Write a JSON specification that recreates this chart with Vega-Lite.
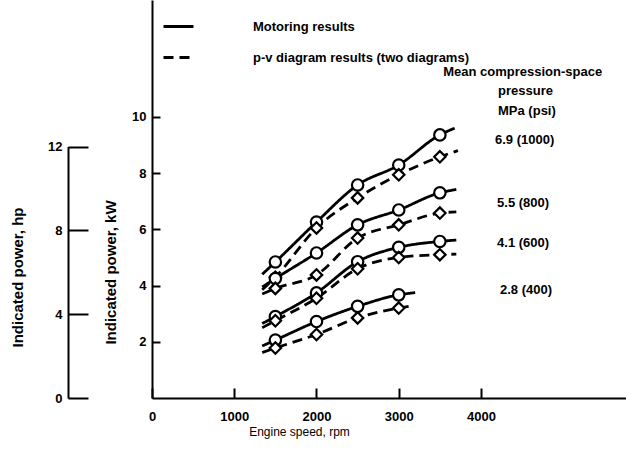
{
  "$schema": "https://vega.github.io/schema/vega-lite/v6.json",
  "width": 474,
  "height": 398,
  "autosize": {"type": "none"},
  "padding": {"left": 152, "top": 0, "right": 0, "bottom": 52},
  "background": "white",
  "config": {
    "view": {"stroke": null},
    "font": "Liberation Sans",
    "axis": {
      "grid": false,
      "domainColor": "black",
      "domainWidth": 2,
      "tickColor": "black",
      "tickWidth": 2,
      "labelColor": "black",
      "titleColor": "black",
      "labelFont": "Liberation Sans",
      "labelFontWeight": "bold",
      "labelFontSize": 13,
      "titleFont": "Liberation Sans",
      "titleFontWeight": "bold",
      "titleFontSize": 13,
      "labelFlush": false,
      "labelOverlap": false
    }
  },
  "datasets": {
    "points": [
      {"p": "6.9 (1000)", "type": "Motoring results", "rpm": 1500, "kW": 4.84},
      {"p": "6.9 (1000)", "type": "Motoring results", "rpm": 2000, "kW": 6.26},
      {"p": "6.9 (1000)", "type": "Motoring results", "rpm": 2500, "kW": 7.58},
      {"p": "6.9 (1000)", "type": "Motoring results", "rpm": 3000, "kW": 8.29},
      {"p": "6.9 (1000)", "type": "Motoring results", "rpm": 3500, "kW": 9.36},
      {"p": "6.9 (1000)", "type": "p-v diagram results (two diagrams)", "rpm": 1500, "kW": 4.3},
      {"p": "6.9 (1000)", "type": "p-v diagram results (two diagrams)", "rpm": 2000, "kW": 6.05},
      {"p": "6.9 (1000)", "type": "p-v diagram results (two diagrams)", "rpm": 2500, "kW": 7.12},
      {"p": "6.9 (1000)", "type": "p-v diagram results (two diagrams)", "rpm": 3000, "kW": 7.94},
      {"p": "6.9 (1000)", "type": "p-v diagram results (two diagrams)", "rpm": 3500, "kW": 8.58},
      {"p": "5.5 (800)", "type": "Motoring results", "rpm": 1500, "kW": 4.25},
      {"p": "5.5 (800)", "type": "Motoring results", "rpm": 2000, "kW": 5.16},
      {"p": "5.5 (800)", "type": "Motoring results", "rpm": 2500, "kW": 6.16},
      {"p": "5.5 (800)", "type": "Motoring results", "rpm": 3000, "kW": 6.69},
      {"p": "5.5 (800)", "type": "Motoring results", "rpm": 3500, "kW": 7.3},
      {"p": "5.5 (800)", "type": "p-v diagram results (two diagrams)", "rpm": 1500, "kW": 3.9},
      {"p": "5.5 (800)", "type": "p-v diagram results (two diagrams)", "rpm": 2000, "kW": 4.38},
      {"p": "5.5 (800)", "type": "p-v diagram results (two diagrams)", "rpm": 2500, "kW": 5.69},
      {"p": "5.5 (800)", "type": "p-v diagram results (two diagrams)", "rpm": 3000, "kW": 6.16},
      {"p": "5.5 (800)", "type": "p-v diagram results (two diagrams)", "rpm": 3500, "kW": 6.58},
      {"p": "4.1 (600)", "type": "Motoring results", "rpm": 1500, "kW": 2.9},
      {"p": "4.1 (600)", "type": "Motoring results", "rpm": 2000, "kW": 3.74},
      {"p": "4.1 (600)", "type": "Motoring results", "rpm": 2500, "kW": 4.85},
      {"p": "4.1 (600)", "type": "Motoring results", "rpm": 3000, "kW": 5.36},
      {"p": "4.1 (600)", "type": "Motoring results", "rpm": 3500, "kW": 5.57},
      {"p": "4.1 (600)", "type": "p-v diagram results (two diagrams)", "rpm": 1500, "kW": 2.75},
      {"p": "4.1 (600)", "type": "p-v diagram results (two diagrams)", "rpm": 2000, "kW": 3.55},
      {"p": "4.1 (600)", "type": "p-v diagram results (two diagrams)", "rpm": 2500, "kW": 4.6},
      {"p": "4.1 (600)", "type": "p-v diagram results (two diagrams)", "rpm": 3000, "kW": 5.0},
      {"p": "4.1 (600)", "type": "p-v diagram results (two diagrams)", "rpm": 3500, "kW": 5.1},
      {"p": "2.8 (400)", "type": "Motoring results", "rpm": 1500, "kW": 2.06},
      {"p": "2.8 (400)", "type": "Motoring results", "rpm": 2000, "kW": 2.72},
      {"p": "2.8 (400)", "type": "Motoring results", "rpm": 2500, "kW": 3.26},
      {"p": "2.8 (400)", "type": "Motoring results", "rpm": 3000, "kW": 3.67},
      {"p": "2.8 (400)", "type": "p-v diagram results (two diagrams)", "rpm": 1500, "kW": 1.78},
      {"p": "2.8 (400)", "type": "p-v diagram results (two diagrams)", "rpm": 2000, "kW": 2.26},
      {"p": "2.8 (400)", "type": "p-v diagram results (two diagrams)", "rpm": 2500, "kW": 2.85},
      {"p": "2.8 (400)", "type": "p-v diagram results (two diagrams)", "rpm": 3000, "kW": 3.2}
    ],
    "curves": [
      {"p": "6.9 (1000)", "method": "Motoring", "rpm": 1340, "kW": 4.4},
      {"p": "6.9 (1000)", "method": "Motoring", "rpm": 1500, "kW": 4.84},
      {"p": "6.9 (1000)", "method": "Motoring", "rpm": 2000, "kW": 6.26},
      {"p": "6.9 (1000)", "method": "Motoring", "rpm": 2500, "kW": 7.58},
      {"p": "6.9 (1000)", "method": "Motoring", "rpm": 3000, "kW": 8.29},
      {"p": "6.9 (1000)", "method": "Motoring", "rpm": 3500, "kW": 9.36},
      {"p": "6.9 (1000)", "method": "Motoring", "rpm": 3680, "kW": 9.6},
      {"p": "6.9 (1000)", "method": "p-v diagram", "rpm": 1340, "kW": 3.85},
      {"p": "6.9 (1000)", "method": "p-v diagram", "rpm": 1500, "kW": 4.3},
      {"p": "6.9 (1000)", "method": "p-v diagram", "rpm": 2000, "kW": 6.05},
      {"p": "6.9 (1000)", "method": "p-v diagram", "rpm": 2500, "kW": 7.12},
      {"p": "6.9 (1000)", "method": "p-v diagram", "rpm": 3000, "kW": 7.94},
      {"p": "6.9 (1000)", "method": "p-v diagram", "rpm": 3500, "kW": 8.58},
      {"p": "6.9 (1000)", "method": "p-v diagram", "rpm": 3720, "kW": 8.8},
      {"p": "5.5 (800)", "method": "Motoring", "rpm": 1340, "kW": 3.95},
      {"p": "5.5 (800)", "method": "Motoring", "rpm": 1500, "kW": 4.25},
      {"p": "5.5 (800)", "method": "Motoring", "rpm": 2000, "kW": 5.16},
      {"p": "5.5 (800)", "method": "Motoring", "rpm": 2500, "kW": 6.16},
      {"p": "5.5 (800)", "method": "Motoring", "rpm": 3000, "kW": 6.69},
      {"p": "5.5 (800)", "method": "Motoring", "rpm": 3500, "kW": 7.3},
      {"p": "5.5 (800)", "method": "Motoring", "rpm": 3700, "kW": 7.42},
      {"p": "5.5 (800)", "method": "p-v diagram", "rpm": 1340, "kW": 3.7},
      {"p": "5.5 (800)", "method": "p-v diagram", "rpm": 1500, "kW": 3.9},
      {"p": "5.5 (800)", "method": "p-v diagram", "rpm": 2000, "kW": 4.38},
      {"p": "5.5 (800)", "method": "p-v diagram", "rpm": 2500, "kW": 5.69},
      {"p": "5.5 (800)", "method": "p-v diagram", "rpm": 3000, "kW": 6.16},
      {"p": "5.5 (800)", "method": "p-v diagram", "rpm": 3500, "kW": 6.58},
      {"p": "5.5 (800)", "method": "p-v diagram", "rpm": 3700, "kW": 6.62},
      {"p": "4.1 (600)", "method": "Motoring", "rpm": 1340, "kW": 2.65},
      {"p": "4.1 (600)", "method": "Motoring", "rpm": 1500, "kW": 2.9},
      {"p": "4.1 (600)", "method": "Motoring", "rpm": 2000, "kW": 3.74},
      {"p": "4.1 (600)", "method": "Motoring", "rpm": 2500, "kW": 4.85},
      {"p": "4.1 (600)", "method": "Motoring", "rpm": 3000, "kW": 5.36},
      {"p": "4.1 (600)", "method": "Motoring", "rpm": 3500, "kW": 5.57},
      {"p": "4.1 (600)", "method": "Motoring", "rpm": 3700, "kW": 5.62},
      {"p": "4.1 (600)", "method": "p-v diagram", "rpm": 1340, "kW": 2.5},
      {"p": "4.1 (600)", "method": "p-v diagram", "rpm": 1500, "kW": 2.75},
      {"p": "4.1 (600)", "method": "p-v diagram", "rpm": 2000, "kW": 3.55},
      {"p": "4.1 (600)", "method": "p-v diagram", "rpm": 2500, "kW": 4.6},
      {"p": "4.1 (600)", "method": "p-v diagram", "rpm": 3000, "kW": 5.0},
      {"p": "4.1 (600)", "method": "p-v diagram", "rpm": 3500, "kW": 5.1},
      {"p": "4.1 (600)", "method": "p-v diagram", "rpm": 3700, "kW": 5.12},
      {"p": "2.8 (400)", "method": "Motoring", "rpm": 1340, "kW": 1.85},
      {"p": "2.8 (400)", "method": "Motoring", "rpm": 1500, "kW": 2.06},
      {"p": "2.8 (400)", "method": "Motoring", "rpm": 2000, "kW": 2.72},
      {"p": "2.8 (400)", "method": "Motoring", "rpm": 2500, "kW": 3.26},
      {"p": "2.8 (400)", "method": "Motoring", "rpm": 3000, "kW": 3.67},
      {"p": "2.8 (400)", "method": "Motoring", "rpm": 3200, "kW": 3.75},
      {"p": "2.8 (400)", "method": "p-v diagram", "rpm": 1340, "kW": 1.62},
      {"p": "2.8 (400)", "method": "p-v diagram", "rpm": 1500, "kW": 1.78},
      {"p": "2.8 (400)", "method": "p-v diagram", "rpm": 2000, "kW": 2.26},
      {"p": "2.8 (400)", "method": "p-v diagram", "rpm": 2500, "kW": 2.85},
      {"p": "2.8 (400)", "method": "p-v diagram", "rpm": 3000, "kW": 3.2},
      {"p": "2.8 (400)", "method": "p-v diagram", "rpm": 3120, "kW": 3.26}
    ],
    "labels": [
      {"text": "Mean compression-space", "rpm": 3540, "kW": 11.6},
      {"text": "pressure", "rpm": 4207, "kW": 10.93},
      {"text": "MPa (psi)", "rpm": 4207, "kW": 10.21},
      {"text": "6.9 (1000)", "rpm": 4170, "kW": 9.18},
      {"text": "5.5 (800)", "rpm": 4195, "kW": 6.94},
      {"text": "4.1 (600)", "rpm": 4195, "kW": 5.52},
      {"text": "2.8 (400)", "rpm": 4231, "kW": 3.84}
    ]
  },
  "layer": [
    {
      "encoding": {
        "x": {
          "field": "rpm",
          "type": "quantitative",
          "scale": {"domain": [0, 5763], "nice": false, "zero": false},
          "axis": {
            "values": [0, 1000, 2000, 3000, 4000],
            "format": "d",
            "tickSize": -10,
            "labelPadding": 22,
            "title": "Engine speed, rpm",
            "titleFontWeight": "normal",
            "titleFontSize": 12,
            "titleX": 147,
            "titleY": 33,
            "titleBaseline": "middle",
            "titleAlign": "center"
          }
        },
        "y": {
          "field": "kW",
          "type": "quantitative",
          "scale": {"domain": [0, 14.16], "nice": false},
          "axis": {
            "orient": "left",
            "values": [2, 4, 6, 8, 10],
            "tickSize": -8,
            "labelPadding": 14,
            "title": "Indicated power, kW",
            "titleFontSize": 15,
            "titleX": -42,
            "titleY": 272,
            "titleAngle": 270,
            "titleBaseline": "middle",
            "titleAlign": "center"
          }
        }
      },
      "layer": [
        {
          "data": {"name": "curves"},
          "mark": {"type": "line", "color": "black", "strokeWidth": 2.8, "interpolate": "monotone"},
          "encoding": {
            "detail": {"field": "p"},
            "strokeDash": {
              "field": "method",
              "type": "nominal",
              "scale": {"range": [[1, 0], [10, 6]]},
              "legend": {
                "orient": "none",
                "legendX": 10,
                "legendY": 10,
                "title": null,
                "symbolType": "stroke",
                "symbolSize": 900,
                "symbolStrokeWidth": 2.8,
                "labelOffset": 58,
                "rowPadding": 7,
                "labelFont": "Liberation Sans",
                "labelFontSize": 13,
                "labelFontWeight": "bold",
                "labelColor": "black",
                "labelLimit": 400,
                "labelExpr": "datum.label === 'Motoring' ? 'Motoring results' : 'p-v diagram results (two diagrams)'"
              }
            }
          }
        },
        {
          "data": {"name": "points"},
          "mark": {"type": "point", "filled": false, "fill": "white", "stroke": "black", "strokeWidth": 2.2, "size": 130, "opacity": 1},
          "encoding": {
            "shape": {
              "field": "type",
              "type": "nominal",
              "scale": {"domain": ["Motoring results", "p-v diagram results (two diagrams)"], "range": ["circle", "diamond"]},
              "legend": null
            }
          }
        },
        {
          "data": {"name": "labels"},
          "mark": {"type": "text", "align": "left", "baseline": "middle", "font": "Liberation Sans", "fontWeight": "bold", "fontSize": 13, "color": "black"},
          "encoding": {
            "text": {"field": "text"}
          }
        }
      ]
    },
    {
      "data": {"values": [{}]},
      "mark": {"type": "point", "opacity": 0},
      "encoding": {
        "y": {
          "datum": 0,
          "type": "quantitative",
          "scale": {"domain": [0, 12], "range": [398, 146.5], "nice": false},
          "axis": {
            "orient": "left",
            "offset": 84,
            "values": [0, 4, 8, 12],
            "tickSize": -20,
            "labelPadding": 26,
            "title": "Indicated power, hp",
            "titleFontSize": 15,
            "titleX": -51,
            "titleY": 277,
            "titleAngle": 270,
            "titleBaseline": "middle",
            "titleAlign": "center"
          }
        }
      }
    }
  ],
  "resolve": {"scale": {"y": "independent"}}
}
